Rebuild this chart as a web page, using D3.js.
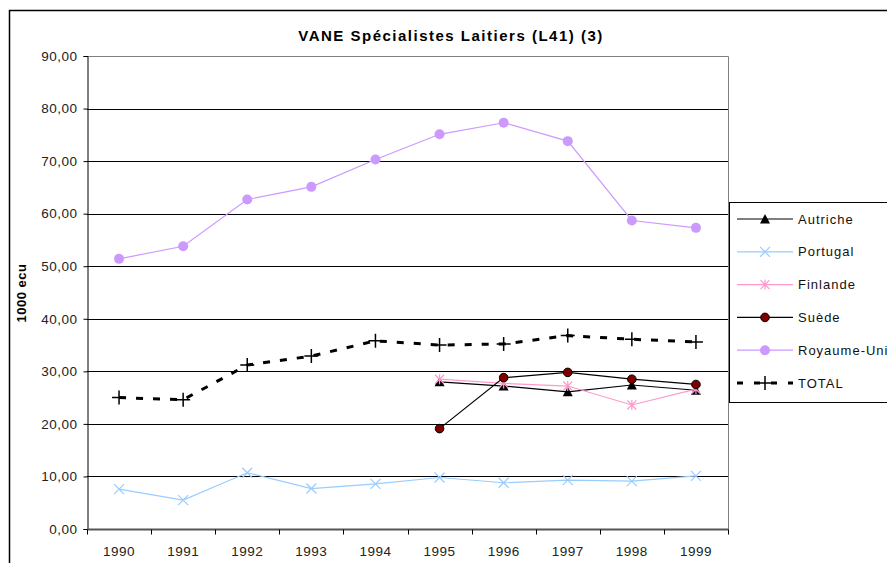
<!DOCTYPE html>
<html>
<head>
<meta charset="utf-8">
<script src="https://cdn.jsdelivr.net/npm/d3@7"></script>
<style>
  body { margin: 0; background: #fff; }
  text { font-family: "Liberation Sans", Arial, sans-serif; }
</style>
</head>
<body>
<div id="wrap"></div>
<script>
// data
var years = ["1990","1991","1992","1993","1994","1995","1996","1997","1998","1999"];
var autriche   = [null,null,null,null,null,28.0,27.2,26.1,27.4,26.4];
var portugal   = [7.6,5.5,10.7,7.7,8.6,9.8,8.8,9.3,9.1,10.1];
var finlande   = [null,null,null,null,null,28.5,27.7,27.2,23.6,26.6];
var suede      = [null,null,null,null,null,19.1,28.8,29.8,28.5,27.5];
var royaumeUni = [51.4,53.8,62.7,65.1,70.3,75.1,77.3,73.8,58.7,57.3];
var total      = [25.0,24.6,31.2,32.9,35.8,35.0,35.2,36.8,36.1,35.6];
var yTicks = [0,10,20,30,40,50,60,70,80,90];

var series = [
  {name:"Autriche",    values:autriche,   color:"#000000", marker:"triangle"},
  {name:"Portugal",    values:portugal,   color:"#99ccff", marker:"x"},
  {name:"Finlande",    values:finlande,   color:"#ff99cc", marker:"star"},
  {name:"Suède",       values:suede,      color:"#000000", marker:"dot", fill:"#800000"},
  {name:"Royaume-Uni", values:royaumeUni, color:"#cc99ff", marker:"circle"},
  {name:"TOTAL",       values:total,      color:"#000000", marker:"plus", dash:true}
];

var width = 887, height = 563;
var plot = {left: 87, right: 728, top: 56, bottom: 529};

var svg = d3.select('#wrap').append('svg')
  .attr('width', width)
  .attr('height', height);

// outer chart border (continues beyond the picture)
svg.append('rect')
  .attr('x', 9.5).attr('y', 10.5)
  .attr('width', 1000).attr('height', 700)
  .style('fill', 'none')
  .style('stroke', '#000')
  .style('stroke-width', 1.5);

var x = d3.scaleBand().domain(years).range([plot.left, plot.right]).padding(0);
var y = d3.scaleLinear().domain([0, 90]).range([plot.bottom, plot.top]);
var cx = function(d, i) { return x(years[i]) + x.bandwidth()/2; };

// gridlines
svg.append('g').selectAll('line')
  .data(yTicks.filter(function(d){ return d > 0 && d < 90; }))
  .enter().append('line')
    .attr('x1', plot.left).attr('x2', plot.right)
    .attr('y1', function(d){ return Math.round(y(d)) + 0.5; })
    .attr('y2', function(d){ return Math.round(y(d)) + 0.5; })
    .style('stroke', '#000')
    .style('stroke-width', 1);

// plot area border top/right
svg.append('path')
  .attr('d', 'M' + plot.left + ',' + (plot.top + 0.5) + 'H' + (plot.right + 0.5) + 'V' + plot.bottom)
  .style('fill', 'none')
  .style('stroke', '#808080')
  .style('stroke-width', 1);

// y axis
var yAxis = svg.append('g')
  .attr('transform', 'translate(' + (plot.left + 0.5) + ',0)')
  .call(d3.axisLeft(y).tickValues(yTicks).tickSize(4).tickPadding(6)
    .tickFormat(function(d){ return d3.format('.2f')(d).replace('.', ','); }));
yAxis.select('.domain').style('stroke', '#000');
yAxis.selectAll('.tick line').style('stroke', '#000');
yAxis.selectAll('text')
  .style('font-size', '13.5px')
  .style('letter-spacing', '0.5px')
  .style('fill', '#222');

// x axis
var xAxisG = svg.append('g')
  .attr('transform', 'translate(0,' + (plot.bottom + 0.5) + ')');
xAxisG.append('line')
  .attr('x1', plot.left).attr('x2', plot.right + 0.5)
  .style('stroke', '#555').style('stroke-width', 2);
xAxisG.selectAll('.tk')
  .data(years.concat(['end']))
  .enter().append('line')
    .attr('class', 'tk')
    .attr('x1', function(d, i){ return Math.round(plot.left + i * x.bandwidth()) + 0.5; })
    .attr('x2', function(d, i){ return Math.round(plot.left + i * x.bandwidth()) + 0.5; })
    .attr('y1', 0).attr('y2', 5)
    .style('stroke', '#000');
xAxisG.selectAll('.lbl')
  .data(years)
  .enter().append('text')
    .attr('class', 'lbl')
    .attr('x', function(d){ return x(d) + x.bandwidth()/2; })
    .attr('y', 26)
    .attr('text-anchor', 'middle')
    .style('font-size', '13.5px')
    .style('letter-spacing', '0.5px')
    .style('fill', '#222')
    .text(function(d){ return d; });

// title
svg.append('text')
  .attr('x', 451).attr('y', 41)
  .attr('text-anchor', 'middle')
  .style('font-size', '15px')
  .style('font-weight', 'bold')
  .style('letter-spacing', '1.5px')
  .text('VANE Spécialistes Laitiers (L41) (3)');

// y axis label
svg.append('text')
  .attr('transform', 'translate(26,293) rotate(-90)')
  .attr('text-anchor', 'middle')
  .style('font-size', '13px')
  .style('font-weight', 'bold')
  .style('letter-spacing', '0.5px')
  .text('1000 ecu');

// markers
function markerPath(type) {
  switch (type) {
    case 'x':    return 'M-5,-5L5,5M-5,5L5,-5';
    case 'star': return 'M-4.5,-4.5L4.5,4.5M-4.5,4.5L4.5,-4.5M0,-5V5';
    case 'plus': return 'M-7,0H7M0,-7V7';
    case 'triangle': return 'M0,-5L5,4.5H-5Z';
  }
  return null;
}
function drawMarker(g, s) {
  if (s.marker === 'circle') {
    g.append('circle').attr('r', 5).style('fill', s.color);
  } else if (s.marker === 'dot') {
    g.append('circle').attr('r', 4.3).style('fill', s.fill).style('stroke', '#000').style('stroke-width', 1);
  } else if (s.marker === 'triangle') {
    g.append('path').attr('d', markerPath('triangle')).style('fill', '#000');
  } else {
    g.append('path').attr('d', markerPath(s.marker))
      .style('fill', 'none').style('stroke', s.color)
      .style('stroke-width', s.marker === 'plus' ? 1.5 : 1.2);
  }
}

var line = d3.line()
  .defined(function(d){ return d != null; })
  .x(cx)
  .y(function(d){ return y(d); });

var order = [1, 4, 5, 0, 2, 3];
order.forEach(function(k) {
  var s = series[k];
  var g = svg.append('g');
  g.append('path')
    .attr('d', line(s.values))
    .style('fill', 'none')
    .style('stroke', s.color)
    .style('stroke-width', s.dash ? 3 : 1.2)
    .style('stroke-dasharray', s.dash ? '7,10' : null);
  s.values.forEach(function(v, i) {
    if (v == null) return;
    var m = g.append('g').attr('transform', 'translate(' + cx(v, i) + ',' + y(v) + ')');
    drawMarker(m, s);
  });
});

// legend
var legend = svg.append('g');
legend.append('rect')
  .attr('x', 729.5).attr('y', 202.5)
  .attr('width', 300).attr('height', 200)
  .style('fill', '#fff')
  .style('stroke', '#000')
  .style('stroke-width', 1);
var legY = d3.scalePoint().domain(series.map(function(s){ return s.name; })).range([219, 383]);
series.forEach(function(s) {
  var ly = legY(s.name);
  legend.append('line')
    .attr('x1', 737).attr('x2', 793)
    .attr('y1', ly).attr('y2', ly)
    .style('stroke', s.color)
    .style('stroke-width', s.dash ? 3 : 1.2)
    .style('stroke-dasharray', s.dash ? '6,11' : null);
  drawMarker(legend.append('g').attr('transform', 'translate(765,' + ly + ')'), s);
  legend.append('text')
    .attr('x', 798).attr('y', ly + 4.5)
    .style('font-size', '13px')
    .style('letter-spacing', '1px')
    .style('fill', '#111')
    .text(s.name);
});
</script>
</body>
</html>
